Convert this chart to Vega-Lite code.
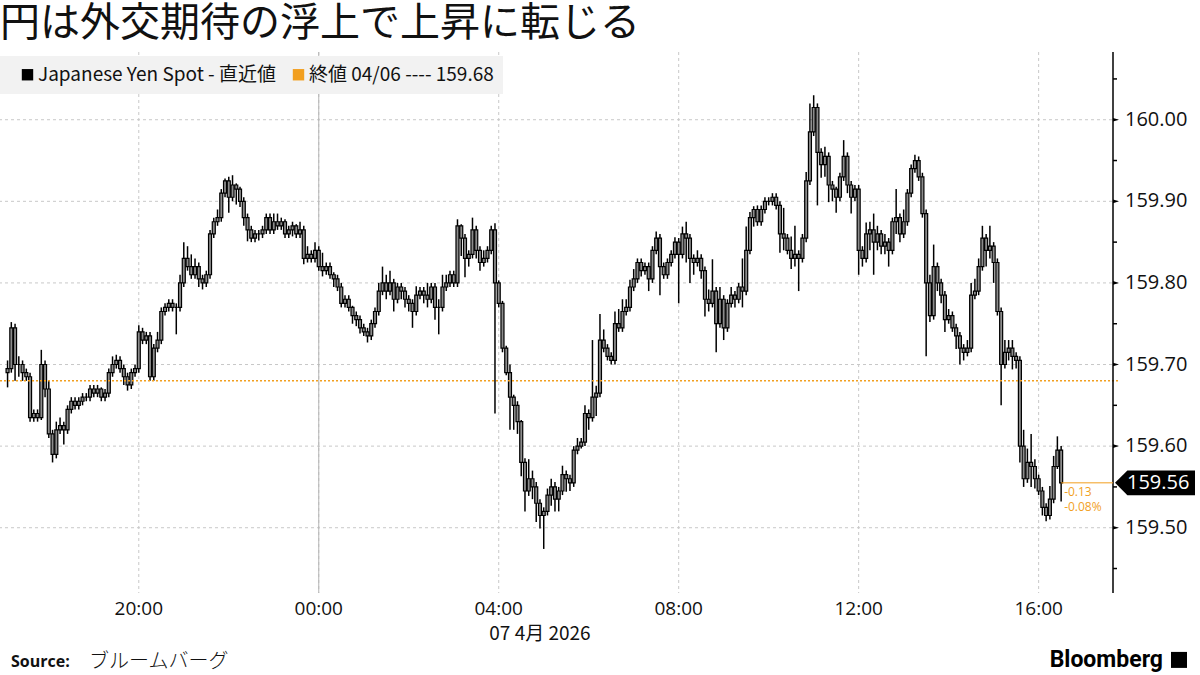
{
"$schema": "https://vega.github.io/schema/vega-lite/v6.json",
"width": 1118,
"height": 541,
"autosize": {"type": "none"},
"padding": {"left": 0, "top": 52, "right": 82, "bottom": 82},
"background": "#ffffff",
"title": {"text": "円は外交期待の浮上で上昇に転じる", "anchor": "start", "frame": "group", "font": "Noto Sans CJK JP", "fontSize": 40, "fontWeight": 400, "color": "#111111", "offset": 7},
"config": {"view": {"stroke": null}},
"data": {"values": [{}]},
"datasets": {"yen": [
{"t":"2026-04-06T17:05","o":159.69,"h":159.705,"l":159.672,"c":159.695},
{"t":"2026-04-06T17:10","o":159.695,"h":159.752,"l":159.69,"c":159.745},
{"t":"2026-04-06T17:15","o":159.745,"h":159.75,"l":159.68,"c":159.70},
{"t":"2026-04-06T17:20","o":159.70,"h":159.71,"l":159.685,"c":159.70},
{"t":"2026-04-06T17:25","o":159.70,"h":159.705,"l":159.68,"c":159.69},
{"t":"2026-04-06T17:30","o":159.69,"h":159.695,"l":159.68,"c":159.685},
{"t":"2026-04-06T17:35","o":159.685,"h":159.69,"l":159.63,"c":159.635},
{"t":"2026-04-06T17:40","o":159.635,"h":159.645,"l":159.63,"c":159.64},
{"t":"2026-04-06T17:45","o":159.64,"h":159.645,"l":159.63,"c":159.635},
{"t":"2026-04-06T17:50","o":159.635,"h":159.718,"l":159.632,"c":159.70},
{"t":"2026-04-06T17:55","o":159.70,"h":159.705,"l":159.66,"c":159.67},
{"t":"2026-04-06T18:00","o":159.67,"h":159.68,"l":159.61,"c":159.615},
{"t":"2026-04-06T18:05","o":159.615,"h":159.62,"l":159.58,"c":159.59},
{"t":"2026-04-06T18:10","o":159.59,"h":159.63,"l":159.585,"c":159.62},
{"t":"2026-04-06T18:15","o":159.62,"h":159.635,"l":159.615,"c":159.625},
{"t":"2026-04-06T18:20","o":159.625,"h":159.63,"l":159.602,"c":159.62},
{"t":"2026-04-06T18:25","o":159.62,"h":159.65,"l":159.615,"c":159.645},
{"t":"2026-04-06T18:30","o":159.645,"h":159.66,"l":159.64,"c":159.655},
{"t":"2026-04-06T18:35","o":159.655,"h":159.66,"l":159.645,"c":159.65},
{"t":"2026-04-06T18:40","o":159.65,"h":159.66,"l":159.645,"c":159.655},
{"t":"2026-04-06T18:45","o":159.655,"h":159.665,"l":159.65,"c":159.66},
{"t":"2026-04-06T18:50","o":159.66,"h":159.665,"l":159.655,"c":159.66},
{"t":"2026-04-06T18:55","o":159.66,"h":159.675,"l":159.655,"c":159.67},
{"t":"2026-04-06T19:00","o":159.67,"h":159.675,"l":159.66,"c":159.665},
{"t":"2026-04-06T19:05","o":159.665,"h":159.675,"l":159.66,"c":159.67},
{"t":"2026-04-06T19:10","o":159.67,"h":159.672,"l":159.655,"c":159.66},
{"t":"2026-04-06T19:15","o":159.66,"h":159.67,"l":159.655,"c":159.665},
{"t":"2026-04-06T19:20","o":159.665,"h":159.695,"l":159.66,"c":159.69},
{"t":"2026-04-06T19:25","o":159.69,"h":159.71,"l":159.685,"c":159.70},
{"t":"2026-04-06T19:30","o":159.70,"h":159.712,"l":159.695,"c":159.705},
{"t":"2026-04-06T19:35","o":159.705,"h":159.71,"l":159.69,"c":159.695},
{"t":"2026-04-06T19:40","o":159.695,"h":159.70,"l":159.675,"c":159.685},
{"t":"2026-04-06T19:45","o":159.685,"h":159.69,"l":159.668,"c":159.675},
{"t":"2026-04-06T19:50","o":159.675,"h":159.695,"l":159.67,"c":159.69},
{"t":"2026-04-06T19:55","o":159.69,"h":159.70,"l":159.685,"c":159.695},
{"t":"2026-04-06T20:00","o":159.695,"h":159.748,"l":159.69,"c":159.74},
{"t":"2026-04-06T20:05","o":159.74,"h":159.745,"l":159.725,"c":159.73},
{"t":"2026-04-06T20:10","o":159.73,"h":159.74,"l":159.725,"c":159.735},
{"t":"2026-04-06T20:15","o":159.735,"h":159.74,"l":159.68,"c":159.685},
{"t":"2026-04-06T20:20","o":159.685,"h":159.725,"l":159.68,"c":159.72},
{"t":"2026-04-06T20:25","o":159.72,"h":159.74,"l":159.715,"c":159.73},
{"t":"2026-04-06T20:30","o":159.73,"h":159.77,"l":159.725,"c":159.765},
{"t":"2026-04-06T20:35","o":159.765,"h":159.775,"l":159.76,"c":159.77},
{"t":"2026-04-06T20:40","o":159.77,"h":159.78,"l":159.765,"c":159.775},
{"t":"2026-04-06T20:45","o":159.775,"h":159.78,"l":159.765,"c":159.77},
{"t":"2026-04-06T20:50","o":159.77,"h":159.775,"l":159.737,"c":159.77},
{"t":"2026-04-06T20:55","o":159.77,"h":159.81,"l":159.765,"c":159.80},
{"t":"2026-04-06T21:00","o":159.80,"h":159.85,"l":159.795,"c":159.83},
{"t":"2026-04-06T21:05","o":159.83,"h":159.845,"l":159.815,"c":159.82},
{"t":"2026-04-06T21:10","o":159.82,"h":159.835,"l":159.805,"c":159.81},
{"t":"2026-04-06T21:15","o":159.81,"h":159.83,"l":159.805,"c":159.82},
{"t":"2026-04-06T21:20","o":159.82,"h":159.825,"l":159.795,"c":159.805},
{"t":"2026-04-06T21:25","o":159.805,"h":159.81,"l":159.792,"c":159.80},
{"t":"2026-04-06T21:30","o":159.80,"h":159.815,"l":159.795,"c":159.81},
{"t":"2026-04-06T21:35","o":159.81,"h":159.865,"l":159.805,"c":159.86},
{"t":"2026-04-06T21:40","o":159.86,"h":159.88,"l":159.855,"c":159.875},
{"t":"2026-04-06T21:45","o":159.875,"h":159.89,"l":159.87,"c":159.88},
{"t":"2026-04-06T21:50","o":159.88,"h":159.915,"l":159.875,"c":159.91},
{"t":"2026-04-06T21:55","o":159.91,"h":159.928,"l":159.905,"c":159.925},
{"t":"2026-04-06T22:00","o":159.925,"h":159.93,"l":159.886,"c":159.905},
{"t":"2026-04-06T22:05","o":159.905,"h":159.932,"l":159.90,"c":159.92},
{"t":"2026-04-06T22:10","o":159.92,"h":159.922,"l":159.896,"c":159.915},
{"t":"2026-04-06T22:15","o":159.915,"h":159.918,"l":159.893,"c":159.90},
{"t":"2026-04-06T22:20","o":159.90,"h":159.905,"l":159.87,"c":159.88},
{"t":"2026-04-06T22:25","o":159.88,"h":159.885,"l":159.851,"c":159.865},
{"t":"2026-04-06T22:30","o":159.865,"h":159.87,"l":159.85,"c":159.855},
{"t":"2026-04-06T22:35","o":159.855,"h":159.865,"l":159.85,"c":159.86},
{"t":"2026-04-06T22:40","o":159.86,"h":159.865,"l":159.852,"c":159.86},
{"t":"2026-04-06T22:45","o":159.86,"h":159.87,"l":159.855,"c":159.865},
{"t":"2026-04-06T22:50","o":159.865,"h":159.885,"l":159.86,"c":159.88},
{"t":"2026-04-06T22:55","o":159.88,"h":159.885,"l":159.86,"c":159.865},
{"t":"2026-04-06T23:00","o":159.865,"h":159.885,"l":159.86,"c":159.875},
{"t":"2026-04-06T23:05","o":159.875,"h":159.885,"l":159.865,"c":159.87},
{"t":"2026-04-06T23:10","o":159.87,"h":159.88,"l":159.865,"c":159.875},
{"t":"2026-04-06T23:15","o":159.875,"h":159.878,"l":159.855,"c":159.86},
{"t":"2026-04-06T23:20","o":159.86,"h":159.87,"l":159.855,"c":159.865},
{"t":"2026-04-06T23:25","o":159.865,"h":159.875,"l":159.857,"c":159.87},
{"t":"2026-04-06T23:30","o":159.87,"h":159.872,"l":159.855,"c":159.86},
{"t":"2026-04-06T23:35","o":159.86,"h":159.875,"l":159.855,"c":159.865},
{"t":"2026-04-06T23:40","o":159.865,"h":159.87,"l":159.823,"c":159.83},
{"t":"2026-04-06T23:45","o":159.83,"h":159.845,"l":159.825,"c":159.835},
{"t":"2026-04-06T23:50","o":159.835,"h":159.84,"l":159.825,"c":159.83},
{"t":"2026-04-06T23:55","o":159.83,"h":159.85,"l":159.825,"c":159.84},
{"t":"2026-04-07T00:00","o":159.84,"h":159.845,"l":159.815,"c":159.82},
{"t":"2026-04-07T00:05","o":159.82,"h":159.837,"l":159.808,"c":159.815},
{"t":"2026-04-07T00:10","o":159.815,"h":159.825,"l":159.81,"c":159.82},
{"t":"2026-04-07T00:15","o":159.82,"h":159.825,"l":159.805,"c":159.81},
{"t":"2026-04-07T00:20","o":159.81,"h":159.813,"l":159.795,"c":159.805},
{"t":"2026-04-07T00:25","o":159.805,"h":159.81,"l":159.79,"c":159.795},
{"t":"2026-04-07T00:30","o":159.795,"h":159.80,"l":159.77,"c":159.775},
{"t":"2026-04-07T00:35","o":159.775,"h":159.785,"l":159.77,"c":159.78},
{"t":"2026-04-07T00:40","o":159.78,"h":159.785,"l":159.765,"c":159.77},
{"t":"2026-04-07T00:45","o":159.77,"h":159.772,"l":159.75,"c":159.76},
{"t":"2026-04-07T00:50","o":159.76,"h":159.765,"l":159.747,"c":159.755},
{"t":"2026-04-07T00:55","o":159.755,"h":159.76,"l":159.738,"c":159.745},
{"t":"2026-04-07T01:00","o":159.745,"h":159.75,"l":159.735,"c":159.74},
{"t":"2026-04-07T01:05","o":159.74,"h":159.745,"l":159.727,"c":159.735},
{"t":"2026-04-07T01:10","o":159.735,"h":159.755,"l":159.73,"c":159.75},
{"t":"2026-04-07T01:15","o":159.75,"h":159.77,"l":159.745,"c":159.765},
{"t":"2026-04-07T01:20","o":159.765,"h":159.80,"l":159.76,"c":159.79},
{"t":"2026-04-07T01:25","o":159.79,"h":159.82,"l":159.785,"c":159.80},
{"t":"2026-04-07T01:30","o":159.80,"h":159.81,"l":159.78,"c":159.79},
{"t":"2026-04-07T01:35","o":159.79,"h":159.815,"l":159.785,"c":159.80},
{"t":"2026-04-07T01:40","o":159.80,"h":159.805,"l":159.765,"c":159.78},
{"t":"2026-04-07T01:45","o":159.78,"h":159.80,"l":159.775,"c":159.795},
{"t":"2026-04-07T01:50","o":159.795,"h":159.80,"l":159.78,"c":159.79},
{"t":"2026-04-07T01:55","o":159.79,"h":159.795,"l":159.77,"c":159.78},
{"t":"2026-04-07T02:00","o":159.78,"h":159.785,"l":159.765,"c":159.775},
{"t":"2026-04-07T02:05","o":159.775,"h":159.78,"l":159.745,"c":159.765},
{"t":"2026-04-07T02:10","o":159.765,"h":159.796,"l":159.76,"c":159.785},
{"t":"2026-04-07T02:15","o":159.785,"h":159.795,"l":159.78,"c":159.79},
{"t":"2026-04-07T02:20","o":159.79,"h":159.795,"l":159.775,"c":159.785},
{"t":"2026-04-07T02:25","o":159.785,"h":159.80,"l":159.77,"c":159.78},
{"t":"2026-04-07T02:30","o":159.78,"h":159.80,"l":159.775,"c":159.795},
{"t":"2026-04-07T02:35","o":159.795,"h":159.80,"l":159.755,"c":159.77},
{"t":"2026-04-07T02:40","o":159.77,"h":159.78,"l":159.737,"c":159.77},
{"t":"2026-04-07T02:45","o":159.77,"h":159.81,"l":159.765,"c":159.795},
{"t":"2026-04-07T02:50","o":159.795,"h":159.81,"l":159.79,"c":159.80},
{"t":"2026-04-07T02:55","o":159.80,"h":159.815,"l":159.795,"c":159.81},
{"t":"2026-04-07T03:00","o":159.81,"h":159.815,"l":159.795,"c":159.80},
{"t":"2026-04-07T03:05","o":159.80,"h":159.878,"l":159.795,"c":159.87},
{"t":"2026-04-07T03:10","o":159.87,"h":159.872,"l":159.833,"c":159.855},
{"t":"2026-04-07T03:15","o":159.855,"h":159.86,"l":159.807,"c":159.83},
{"t":"2026-04-07T03:20","o":159.83,"h":159.84,"l":159.82,"c":159.835},
{"t":"2026-04-07T03:25","o":159.835,"h":159.88,"l":159.83,"c":159.865},
{"t":"2026-04-07T03:30","o":159.865,"h":159.87,"l":159.83,"c":159.84},
{"t":"2026-04-07T03:35","o":159.84,"h":159.845,"l":159.815,"c":159.825},
{"t":"2026-04-07T03:40","o":159.825,"h":159.84,"l":159.82,"c":159.83},
{"t":"2026-04-07T03:45","o":159.83,"h":159.845,"l":159.825,"c":159.84},
{"t":"2026-04-07T03:50","o":159.84,"h":159.87,"l":159.835,"c":159.865},
{"t":"2026-04-07T03:55","o":159.865,"h":159.873,"l":159.64,"c":159.80},
{"t":"2026-04-07T04:00","o":159.80,"h":159.803,"l":159.77,"c":159.775},
{"t":"2026-04-07T04:05","o":159.775,"h":159.778,"l":159.715,"c":159.72},
{"t":"2026-04-07T04:10","o":159.72,"h":159.723,"l":159.687,"c":159.69},
{"t":"2026-04-07T04:15","o":159.69,"h":159.70,"l":159.62,"c":159.66},
{"t":"2026-04-07T04:20","o":159.66,"h":159.663,"l":159.62,"c":159.65},
{"t":"2026-04-07T04:25","o":159.65,"h":159.655,"l":159.615,"c":159.63},
{"t":"2026-04-07T04:30","o":159.63,"h":159.632,"l":159.563,"c":159.58},
{"t":"2026-04-07T04:35","o":159.58,"h":159.585,"l":159.52,"c":159.545},
{"t":"2026-04-07T04:40","o":159.545,"h":159.584,"l":159.539,"c":159.56},
{"t":"2026-04-07T04:45","o":159.56,"h":159.57,"l":159.535,"c":159.55},
{"t":"2026-04-07T04:50","o":159.55,"h":159.556,"l":159.507,"c":159.53},
{"t":"2026-04-07T04:55","o":159.53,"h":159.535,"l":159.499,"c":159.515},
{"t":"2026-04-07T05:00","o":159.515,"h":159.525,"l":159.474,"c":159.52},
{"t":"2026-04-07T05:05","o":159.52,"h":159.548,"l":159.515,"c":159.54},
{"t":"2026-04-07T05:10","o":159.54,"h":159.56,"l":159.527,"c":159.55},
{"t":"2026-04-07T05:15","o":159.55,"h":159.556,"l":159.52,"c":159.535},
{"t":"2026-04-07T05:20","o":159.535,"h":159.55,"l":159.52,"c":159.545},
{"t":"2026-04-07T05:25","o":159.545,"h":159.576,"l":159.54,"c":159.565},
{"t":"2026-04-07T05:30","o":159.565,"h":159.57,"l":159.544,"c":159.56},
{"t":"2026-04-07T05:35","o":159.56,"h":159.565,"l":159.545,"c":159.555},
{"t":"2026-04-07T05:40","o":159.555,"h":159.60,"l":159.55,"c":159.595},
{"t":"2026-04-07T05:45","o":159.595,"h":159.61,"l":159.59,"c":159.60},
{"t":"2026-04-07T05:50","o":159.60,"h":159.61,"l":159.597,"c":159.605},
{"t":"2026-04-07T05:55","o":159.605,"h":159.65,"l":159.60,"c":159.64},
{"t":"2026-04-07T06:00","o":159.64,"h":159.645,"l":159.62,"c":159.635},
{"t":"2026-04-07T06:05","o":159.635,"h":159.73,"l":159.63,"c":159.66},
{"t":"2026-04-07T06:10","o":159.66,"h":159.674,"l":159.637,"c":159.665},
{"t":"2026-04-07T06:15","o":159.665,"h":159.762,"l":159.66,"c":159.73},
{"t":"2026-04-07T06:20","o":159.73,"h":159.743,"l":159.715,"c":159.72},
{"t":"2026-04-07T06:25","o":159.72,"h":159.725,"l":159.705,"c":159.71},
{"t":"2026-04-07T06:30","o":159.71,"h":159.715,"l":159.70,"c":159.705},
{"t":"2026-04-07T06:35","o":159.705,"h":159.765,"l":159.70,"c":159.75},
{"t":"2026-04-07T06:40","o":159.75,"h":159.768,"l":159.74,"c":159.745},
{"t":"2026-04-07T06:45","o":159.745,"h":159.78,"l":159.74,"c":159.765},
{"t":"2026-04-07T06:50","o":159.765,"h":159.78,"l":159.76,"c":159.77},
{"t":"2026-04-07T06:55","o":159.77,"h":159.804,"l":159.765,"c":159.795},
{"t":"2026-04-07T07:00","o":159.795,"h":159.817,"l":159.79,"c":159.805},
{"t":"2026-04-07T07:05","o":159.805,"h":159.83,"l":159.80,"c":159.825},
{"t":"2026-04-07T07:10","o":159.825,"h":159.83,"l":159.808,"c":159.815},
{"t":"2026-04-07T07:15","o":159.815,"h":159.825,"l":159.81,"c":159.82},
{"t":"2026-04-07T07:20","o":159.82,"h":159.825,"l":159.79,"c":159.805},
{"t":"2026-04-07T07:25","o":159.805,"h":159.845,"l":159.80,"c":159.84},
{"t":"2026-04-07T07:30","o":159.84,"h":159.863,"l":159.835,"c":159.855},
{"t":"2026-04-07T07:35","o":159.855,"h":159.86,"l":159.785,"c":159.82},
{"t":"2026-04-07T07:40","o":159.82,"h":159.825,"l":159.805,"c":159.81},
{"t":"2026-04-07T07:45","o":159.81,"h":159.83,"l":159.805,"c":159.825},
{"t":"2026-04-07T07:50","o":159.825,"h":159.84,"l":159.82,"c":159.835},
{"t":"2026-04-07T07:55","o":159.835,"h":159.856,"l":159.83,"c":159.85},
{"t":"2026-04-07T08:00","o":159.85,"h":159.855,"l":159.775,"c":159.835},
{"t":"2026-04-07T08:05","o":159.835,"h":159.869,"l":159.83,"c":159.86},
{"t":"2026-04-07T08:10","o":159.86,"h":159.875,"l":159.825,"c":159.855},
{"t":"2026-04-07T08:15","o":159.855,"h":159.86,"l":159.80,"c":159.83},
{"t":"2026-04-07T08:20","o":159.83,"h":159.835,"l":159.81,"c":159.825},
{"t":"2026-04-07T08:25","o":159.825,"h":159.84,"l":159.82,"c":159.83},
{"t":"2026-04-07T08:30","o":159.83,"h":159.835,"l":159.805,"c":159.815},
{"t":"2026-04-07T08:35","o":159.815,"h":159.82,"l":159.759,"c":159.78},
{"t":"2026-04-07T08:40","o":159.78,"h":159.792,"l":159.765,"c":159.775},
{"t":"2026-04-07T08:45","o":159.775,"h":159.829,"l":159.77,"c":159.79},
{"t":"2026-04-07T08:50","o":159.79,"h":159.795,"l":159.715,"c":159.75},
{"t":"2026-04-07T08:55","o":159.75,"h":159.795,"l":159.745,"c":159.78},
{"t":"2026-04-07T09:00","o":159.78,"h":159.785,"l":159.73,"c":159.745},
{"t":"2026-04-07T09:05","o":159.745,"h":159.78,"l":159.74,"c":159.775},
{"t":"2026-04-07T09:10","o":159.775,"h":159.795,"l":159.77,"c":159.785},
{"t":"2026-04-07T09:15","o":159.785,"h":159.79,"l":159.77,"c":159.78},
{"t":"2026-04-07T09:20","o":159.78,"h":159.80,"l":159.775,"c":159.795},
{"t":"2026-04-07T09:25","o":159.795,"h":159.83,"l":159.77,"c":159.79},
{"t":"2026-04-07T09:30","o":159.79,"h":159.869,"l":159.785,"c":159.84},
{"t":"2026-04-07T09:35","o":159.84,"h":159.887,"l":159.835,"c":159.88},
{"t":"2026-04-07T09:40","o":159.88,"h":159.894,"l":159.869,"c":159.89},
{"t":"2026-04-07T09:45","o":159.89,"h":159.895,"l":159.87,"c":159.875},
{"t":"2026-04-07T09:50","o":159.875,"h":159.895,"l":159.87,"c":159.89},
{"t":"2026-04-07T09:55","o":159.89,"h":159.905,"l":159.885,"c":159.90},
{"t":"2026-04-07T10:00","o":159.90,"h":159.905,"l":159.895,"c":159.90},
{"t":"2026-04-07T10:05","o":159.90,"h":159.91,"l":159.895,"c":159.905},
{"t":"2026-04-07T10:10","o":159.905,"h":159.91,"l":159.89,"c":159.895},
{"t":"2026-04-07T10:15","o":159.895,"h":159.90,"l":159.837,"c":159.86},
{"t":"2026-04-07T10:20","o":159.86,"h":159.892,"l":159.84,"c":159.855},
{"t":"2026-04-07T10:25","o":159.855,"h":159.86,"l":159.835,"c":159.84},
{"t":"2026-04-07T10:30","o":159.84,"h":159.857,"l":159.817,"c":159.83},
{"t":"2026-04-07T10:35","o":159.83,"h":159.87,"l":159.82,"c":159.835},
{"t":"2026-04-07T10:40","o":159.835,"h":159.84,"l":159.79,"c":159.83},
{"t":"2026-04-07T10:45","o":159.83,"h":159.86,"l":159.825,"c":159.855},
{"t":"2026-04-07T10:50","o":159.855,"h":159.936,"l":159.85,"c":159.925},
{"t":"2026-04-07T10:55","o":159.925,"h":160.02,"l":159.92,"c":159.985},
{"t":"2026-04-07T11:00","o":159.985,"h":160.03,"l":159.98,"c":160.015},
{"t":"2026-04-07T11:05","o":160.015,"h":160.02,"l":159.895,"c":159.96},
{"t":"2026-04-07T11:10","o":159.96,"h":159.965,"l":159.929,"c":159.945},
{"t":"2026-04-07T11:15","o":159.945,"h":159.967,"l":159.93,"c":159.955},
{"t":"2026-04-07T11:20","o":159.955,"h":159.96,"l":159.899,"c":159.92},
{"t":"2026-04-07T11:25","o":159.92,"h":159.925,"l":159.90,"c":159.915},
{"t":"2026-04-07T11:30","o":159.915,"h":159.918,"l":159.886,"c":159.905},
{"t":"2026-04-07T11:35","o":159.905,"h":159.935,"l":159.90,"c":159.93},
{"t":"2026-04-07T11:40","o":159.93,"h":159.975,"l":159.925,"c":159.955},
{"t":"2026-04-07T11:45","o":159.955,"h":159.96,"l":159.91,"c":159.92},
{"t":"2026-04-07T11:50","o":159.92,"h":159.925,"l":159.885,"c":159.905},
{"t":"2026-04-07T11:55","o":159.905,"h":159.92,"l":159.90,"c":159.915},
{"t":"2026-04-07T12:00","o":159.915,"h":159.92,"l":159.81,"c":159.84},
{"t":"2026-04-07T12:05","o":159.84,"h":159.845,"l":159.82,"c":159.83},
{"t":"2026-04-07T12:10","o":159.83,"h":159.874,"l":159.825,"c":159.86},
{"t":"2026-04-07T12:15","o":159.86,"h":159.875,"l":159.84,"c":159.865},
{"t":"2026-04-07T12:20","o":159.865,"h":159.885,"l":159.81,"c":159.85},
{"t":"2026-04-07T12:25","o":159.85,"h":159.87,"l":159.84,"c":159.86},
{"t":"2026-04-07T12:30","o":159.86,"h":159.865,"l":159.835,"c":159.845},
{"t":"2026-04-07T12:35","o":159.845,"h":159.86,"l":159.835,"c":159.85},
{"t":"2026-04-07T12:40","o":159.85,"h":159.855,"l":159.82,"c":159.84},
{"t":"2026-04-07T12:45","o":159.84,"h":159.88,"l":159.835,"c":159.875},
{"t":"2026-04-07T12:50","o":159.875,"h":159.915,"l":159.86,"c":159.88},
{"t":"2026-04-07T12:55","o":159.88,"h":159.885,"l":159.85,"c":159.86},
{"t":"2026-04-07T13:00","o":159.86,"h":159.89,"l":159.855,"c":159.875},
{"t":"2026-04-07T13:05","o":159.875,"h":159.915,"l":159.87,"c":159.91},
{"t":"2026-04-07T13:10","o":159.91,"h":159.945,"l":159.905,"c":159.94},
{"t":"2026-04-07T13:15","o":159.94,"h":159.957,"l":159.935,"c":159.95},
{"t":"2026-04-07T13:20","o":159.95,"h":159.955,"l":159.925,"c":159.93},
{"t":"2026-04-07T13:25","o":159.93,"h":159.935,"l":159.88,"c":159.885},
{"t":"2026-04-07T13:30","o":159.885,"h":159.89,"l":159.71,"c":159.80},
{"t":"2026-04-07T13:35","o":159.80,"h":159.81,"l":159.752,"c":159.76},
{"t":"2026-04-07T13:40","o":159.76,"h":159.847,"l":159.755,"c":159.82},
{"t":"2026-04-07T13:45","o":159.82,"h":159.825,"l":159.79,"c":159.80},
{"t":"2026-04-07T13:50","o":159.80,"h":159.805,"l":159.775,"c":159.785},
{"t":"2026-04-07T13:55","o":159.785,"h":159.79,"l":159.74,"c":159.755},
{"t":"2026-04-07T14:00","o":159.755,"h":159.768,"l":159.75,"c":159.76},
{"t":"2026-04-07T14:05","o":159.76,"h":159.765,"l":159.74,"c":159.745},
{"t":"2026-04-07T14:10","o":159.745,"h":159.75,"l":159.719,"c":159.735},
{"t":"2026-04-07T14:15","o":159.735,"h":159.74,"l":159.70,"c":159.72},
{"t":"2026-04-07T14:20","o":159.72,"h":159.725,"l":159.705,"c":159.715},
{"t":"2026-04-07T14:25","o":159.715,"h":159.73,"l":159.71,"c":159.72},
{"t":"2026-04-07T14:30","o":159.72,"h":159.80,"l":159.715,"c":159.785},
{"t":"2026-04-07T14:35","o":159.785,"h":159.805,"l":159.78,"c":159.79},
{"t":"2026-04-07T14:40","o":159.79,"h":159.83,"l":159.785,"c":159.82},
{"t":"2026-04-07T14:45","o":159.82,"h":159.87,"l":159.815,"c":159.855},
{"t":"2026-04-07T14:50","o":159.855,"h":159.86,"l":159.82,"c":159.84},
{"t":"2026-04-07T14:55","o":159.84,"h":159.87,"l":159.83,"c":159.845},
{"t":"2026-04-07T15:00","o":159.845,"h":159.85,"l":159.80,"c":159.825},
{"t":"2026-04-07T15:05","o":159.825,"h":159.83,"l":159.76,"c":159.765},
{"t":"2026-04-07T15:10","o":159.765,"h":159.77,"l":159.65,"c":159.70},
{"t":"2026-04-07T15:15","o":159.70,"h":159.73,"l":159.695,"c":159.715},
{"t":"2026-04-07T15:20","o":159.715,"h":159.73,"l":159.705,"c":159.72},
{"t":"2026-04-07T15:25","o":159.72,"h":159.73,"l":159.694,"c":159.71},
{"t":"2026-04-07T15:30","o":159.71,"h":159.715,"l":159.695,"c":159.705},
{"t":"2026-04-07T15:35","o":159.705,"h":159.71,"l":159.58,"c":159.60},
{"t":"2026-04-07T15:40","o":159.60,"h":159.62,"l":159.55,"c":159.56},
{"t":"2026-04-07T15:45","o":159.56,"h":159.597,"l":159.555,"c":159.58},
{"t":"2026-04-07T15:50","o":159.58,"h":159.615,"l":159.55,"c":159.575},
{"t":"2026-04-07T15:55","o":159.575,"h":159.584,"l":159.548,"c":159.56},
{"t":"2026-04-07T16:00","o":159.56,"h":159.565,"l":159.54,"c":159.545},
{"t":"2026-04-07T16:05","o":159.545,"h":159.55,"l":159.515,"c":159.525},
{"t":"2026-04-07T16:10","o":159.525,"h":159.53,"l":159.508,"c":159.515},
{"t":"2026-04-07T16:15","o":159.515,"h":159.551,"l":159.51,"c":159.535},
{"t":"2026-04-07T16:20","o":159.535,"h":159.588,"l":159.53,"c":159.575},
{"t":"2026-04-07T16:25","o":159.575,"h":159.612,"l":159.572,"c":159.595},
{"t":"2026-04-07T16:30","o":159.595,"h":159.60,"l":159.532,"c":159.555}
],
"series": [{"k": "Japanese Yen Spot - 直近値"}, {"k": "終値 04/06 ---- 159.68"}],
"yt": [{"v": 159.5}, {"v": 159.6}, {"v": 159.7}, {"v": 159.8}, {"v": 159.9}, {"v": 160.0}],
"ym": [{"v": 159.45}, {"v": 159.55}, {"v": 159.65}, {"v": 159.75}, {"v": 159.85}, {"v": 159.95}, {"v": 160.05}],
"xt": [{"t": "2026-04-06T20:00"}, {"t": "2026-04-07T00:00"}, {"t": "2026-04-07T04:00"}, {"t": "2026-04-07T08:00"}, {"t": "2026-04-07T12:00"}, {"t": "2026-04-07T16:00"}]
},
"layer": [
{
 "data": {"name": "yt"},
 "mark": {"type": "rule", "color": "#c8c8c8", "strokeDash": [3, 3], "strokeWidth": 1},
 "encoding": {
  "y": {"field": "v", "type": "quantitative", "scale": {"domain": [159.42, 160.083], "zero": false, "nice": false}, "axis": null}
 }
},
{
 "data": {"name": "xt"},
 "mark": {"type": "rule", "color": "#c8c8c8", "strokeDash": [3, 3], "strokeWidth": 1},
 "encoding": {
  "x": {"field": "t", "type": "temporal", "scale": {"domain": [{"year": 2026, "month": 4, "date": 6, "hours": 17, "minutes": 1, "seconds": 35}, {"year": 2026, "month": 4, "date": 7, "hours": 17, "minutes": 39, "seconds": 10}]}, "axis": null}
 }
},
{
 "mark": {"type": "rule", "color": "#b4b4b4", "strokeWidth": 1},
 "encoding": {
  "x": {"datum": {"year": 2026, "month": 4, "date": 7, "hours": 0}, "type": "temporal", "axis": null}
 }
},
{
 "data": {"name": "yen"},
 "mark": {"type": "rule", "color": "#000000", "strokeWidth": 1.5},
 "encoding": {
  "x": {"field": "t", "type": "temporal", "axis": null},
  "y": {"field": "l", "type": "quantitative", "axis": null},
  "y2": {"field": "h"}
 }
},
{
 "data": {"name": "yen"},
 "mark": {"type": "bar", "width": 3, "fill": "#8c8c8c", "stroke": "#000000", "strokeWidth": 1.2},
 "encoding": {
  "x": {"field": "t", "type": "temporal", "axis": null},
  "y": {"field": "o", "type": "quantitative", "axis": null},
  "y2": {"field": "c"}
 }
},
{
 "mark": {"type": "rule", "color": "#f29f1f", "strokeDash": [2, 2], "strokeWidth": 1.5},
 "encoding": {
  "y": {"datum": 159.68, "type": "quantitative", "axis": null}
 }
},
{
 "mark": {"type": "rule", "color": "#000000", "strokeWidth": 1.5},
 "encoding": {
  "x": {"datum": {"year": 2026, "month": 4, "date": 7, "hours": 17, "minutes": 39, "seconds": 10}, "type": "temporal", "axis": null}
 }
},
{
 "data": {"name": "yt"},
 "mark": {"type": "point", "shape": "M 0 -0.6 L 2 0 L 0 0.6 Z", "size": 36, "filled": true, "color": "#000000", "opacity": 1},
 "encoding": {
  "x": {"datum": {"year": 2026, "month": 4, "date": 7, "hours": 17, "minutes": 39, "seconds": 10}, "type": "temporal", "axis": null},
  "y": {"field": "v", "type": "quantitative", "axis": null}
 }
},
{
 "data": {"name": "ym"},
 "mark": {"type": "point", "shape": "M 0 0 L 2 0", "size": 16, "filled": false, "color": "#000000", "strokeWidth": 1.5, "opacity": 1},
 "encoding": {
  "x": {"datum": {"year": 2026, "month": 4, "date": 7, "hours": 17, "minutes": 39, "seconds": 10}, "type": "temporal", "axis": null},
  "y": {"field": "v", "type": "quantitative", "axis": null}
 }
},
{
 "data": {"name": "yt"},
 "mark": {"type": "text", "color": "#111111", "font": "Open Sans", "fontSize": 20, "align": "left", "baseline": "middle", "dx": 12},
 "encoding": {
  "x": {"datum": {"year": 2026, "month": 4, "date": 7, "hours": 17, "minutes": 39, "seconds": 10}, "type": "temporal", "axis": null},
  "y": {"field": "v", "type": "quantitative", "axis": null},
  "text": {"field": "v", "type": "quantitative", "format": ".2f"}
 }
},
{
 "data": {"name": "xt"},
 "mark": {"type": "text", "color": "#111111", "font": "Open Sans", "fontSize": 19, "align": "center", "baseline": "middle", "dy": 16},
 "encoding": {
  "x": {"field": "t", "type": "temporal", "axis": null},
  "y": {"datum": 159.42, "type": "quantitative", "axis": null},
  "text": {"field": "t", "type": "temporal", "format": "%H:%M"}
 }
},
{
 "mark": {"type": "text", "text": "07 4月 2026", "color": "#111111", "font": "Noto Sans CJK JP", "fontSize": 19, "align": "center", "baseline": "middle", "dy": 41},
 "encoding": {
  "x": {"datum": {"year": 2026, "month": 4, "date": 7, "hours": 4, "minutes": 55}, "type": "temporal", "axis": null},
  "y": {"datum": 159.42, "type": "quantitative", "axis": null}
 }
},
{
 "data": {"name": "series"},
 "mark": {"type": "square", "size": 0, "opacity": 1},
 "encoding": {
  "x": {"datum": {"year": 2026, "month": 4, "date": 7, "hours": 12}, "type": "temporal", "axis": null},
  "y": {"datum": 159.8, "type": "quantitative", "axis": null},
  "color": {"field": "k", "type": "nominal",
   "scale": {"domain": ["Japanese Yen Spot - 直近値", "終値 04/06 ---- 159.68"], "range": ["#000000", "#f29f1f"]},
   "legend": {"orient": "none", "legendX": 0, "legendY": 4, "direction": "horizontal", "title": null, "fillColor": "#f2f2f2", "padding": 9, "symbolType": "square", "symbolSize": 130, "symbolOffset": 9, "labelFont": "Noto Sans CJK JP", "labelFontSize": 19, "labelColor": "#111111", "labelLimit": 400, "labelOffset": 1, "columnPadding": 4, "symbolStrokeWidth": 0}}
 }
},
{
 "mark": {"type": "rule", "color": "#f29f1f", "strokeWidth": 1},
 "encoding": {
  "x": {"datum": {"year": 2026, "month": 4, "date": 7, "hours": 16, "minutes": 30}, "type": "temporal", "axis": null},
  "x2": {"datum": {"year": 2026, "month": 4, "date": 7, "hours": 17, "minutes": 39, "seconds": 10}},
  "y": {"datum": 159.555, "type": "quantitative", "axis": null}
 }
},
{
 "mark": {"type": "text", "text": "-0.13", "color": "#f29f1f", "font": "Open Sans", "fontSize": 12, "align": "left", "baseline": "middle", "dx": 3, "dy": 9},
 "encoding": {
  "x": {"datum": {"year": 2026, "month": 4, "date": 7, "hours": 16, "minutes": 30}, "type": "temporal", "axis": null},
  "y": {"datum": 159.555, "type": "quantitative", "axis": null}
 }
},
{
 "mark": {"type": "text", "text": "-0.08%", "color": "#f29f1f", "font": "Open Sans", "fontSize": 12, "align": "left", "baseline": "middle", "dx": 3, "dy": 24},
 "encoding": {
  "x": {"datum": {"year": 2026, "month": 4, "date": 7, "hours": 16, "minutes": 30}, "type": "temporal", "axis": null},
  "y": {"datum": 159.555, "type": "quantitative", "axis": null}
 }
},
{
 "mark": {"type": "point", "shape": "M -1 0 L -0.69 -0.31 L 1 -0.31 L 1 0.31 L -0.69 0.31 Z", "size": 6400, "filled": true, "color": "#000000", "opacity": 1, "xOffset": 42},
 "encoding": {
  "x": {"datum": {"year": 2026, "month": 4, "date": 7, "hours": 17, "minutes": 39, "seconds": 10}, "type": "temporal", "axis": null},
  "y": {"datum": 159.555, "type": "quantitative", "axis": null}
 }
},
{
 "mark": {"type": "text", "text": "159.56", "color": "#ffffff", "font": "Open Sans", "fontSize": 20, "align": "left", "baseline": "middle", "dx": 14},
 "encoding": {
  "x": {"datum": {"year": 2026, "month": 4, "date": 7, "hours": 17, "minutes": 39, "seconds": 10}, "type": "temporal", "axis": null},
  "y": {"datum": 159.555, "type": "quantitative", "axis": null}
 }
},
{
 "mark": {"type": "text", "text": "Source:", "color": "#111111", "font": "Open Sans", "fontSize": 16, "fontWeight": "bold", "align": "left", "baseline": "middle", "dx": 6},
 "encoding": {
  "x": {"datum": {"year": 2026, "month": 4, "date": 6, "hours": 17, "minutes": 1, "seconds": 35}, "type": "temporal", "axis": null},
  "y": {"datum": 159.3355, "type": "quantitative", "axis": null}
 }
},
{
 "mark": {"type": "text", "text": "ブルームバーグ", "color": "#111111", "font": "Noto Sans CJK JP", "fontSize": 20, "fontWeight": 300, "align": "left", "baseline": "middle", "dx": 84},
 "encoding": {
  "x": {"datum": {"year": 2026, "month": 4, "date": 6, "hours": 17, "minutes": 1, "seconds": 35}, "type": "temporal", "axis": null},
  "y": {"datum": 159.3355, "type": "quantitative", "axis": null}
 }
},
{
 "mark": {"type": "text", "text": "Bloomberg", "color": "#000000", "font": "Roboto", "fontSize": 23, "fontWeight": "bold", "align": "right", "baseline": "middle", "dx": 50},
 "encoding": {
  "x": {"datum": {"year": 2026, "month": 4, "date": 7, "hours": 17, "minutes": 39, "seconds": 10}, "type": "temporal", "axis": null},
  "y": {"datum": 159.338, "type": "quantitative", "axis": null}
 }
},
{
 "mark": {"type": "square", "size": 256, "filled": true, "color": "#000000", "opacity": 1, "xOffset": 66},
 "encoding": {
  "x": {"datum": {"year": 2026, "month": 4, "date": 7, "hours": 17, "minutes": 39, "seconds": 10}, "type": "temporal", "axis": null},
  "y": {"datum": 159.338, "type": "quantitative", "axis": null}
 }
}
]
}
